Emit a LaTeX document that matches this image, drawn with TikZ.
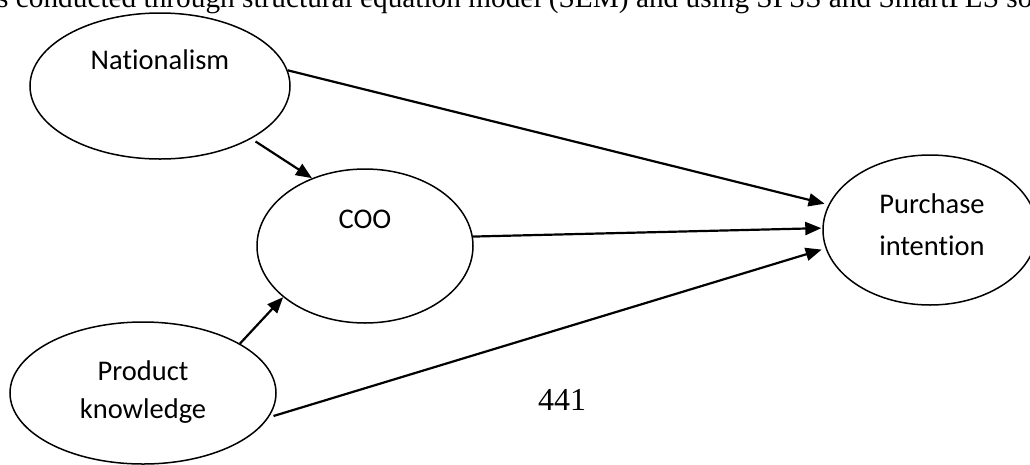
\documentclass[tikz,border=0pt]{standalone}
\usepackage{fontspec}
\setmainfont{Liberation Serif}
\newfontfamily\carl[Ligatures=NoCommon]{Carlito}
\usetikzlibrary{arrows.meta,shapes.geometric}
\begin{document}
\begin{tikzpicture}[x=1pt,y=-1pt,
  ell/.style={ellipse, draw, line width=1.5pt, inner sep=0pt},
  arr/.style={line width=2.2pt, -{Triangle[length=16pt,width=13pt]}},
  lbl/.style={font=\carl\fontsize{28.5}{34}\selectfont, anchor=base, inner sep=0pt},
  serif/.style={anchor=base, inner sep=0pt}]
\useasboundingbox (0,0) rectangle (1030,464);
\clip (0,0) rectangle (1030,464);
% ellipses
\node[ell, minimum width=260pt, minimum height=146pt] (nat) at (160,86) {};
\node[ell, minimum width=216pt, minimum height=154pt] (coo) at (365,246) {};
\node[ell, minimum width=214pt, minimum height=150pt] (pi) at (930,230) {};
\node[ell, minimum width=266pt, minimum height=142pt] (pk) at (143,393) {};
% labels
\node[lbl] (natt) at (160,69) {Nationalism};
\node[lbl] (coot) at (365,228) {COO};
\node[lbl] (pit1) at (932,213) {Purchase};
\node[lbl] (pit2) at (932,255) {intention};
\node[lbl] (pkt1) at (143,380) {Product};
\node[lbl] (pkt2) at (143,418) {knowledge};
% other text
\node[serif, anchor=base west, font=\fontsize{29.3}{34}\selectfont] (top) at (-3,7)
  {s conducted through structural equation model (SEM) and using SPSS and SmartPLS so};
\node[serif, font=\fontsize{32}{36}\selectfont] (pg) at (562,410) {441};
% connectors
\draw[arr, shorten >=4pt] (nat.7) -- (pi.166);
\draw[arr, shorten <=5pt] (nat.-30) -- (coo.128);
\draw[arr, shorten >=1pt] (coo.5) -- (pi.179);
\draw[arr, shorten <=5pt, shorten >=4pt] (pk.-11) -- (pi.190);
\draw[arr] (pk.27) -- (coo.212);
\end{tikzpicture}
\end{document}
